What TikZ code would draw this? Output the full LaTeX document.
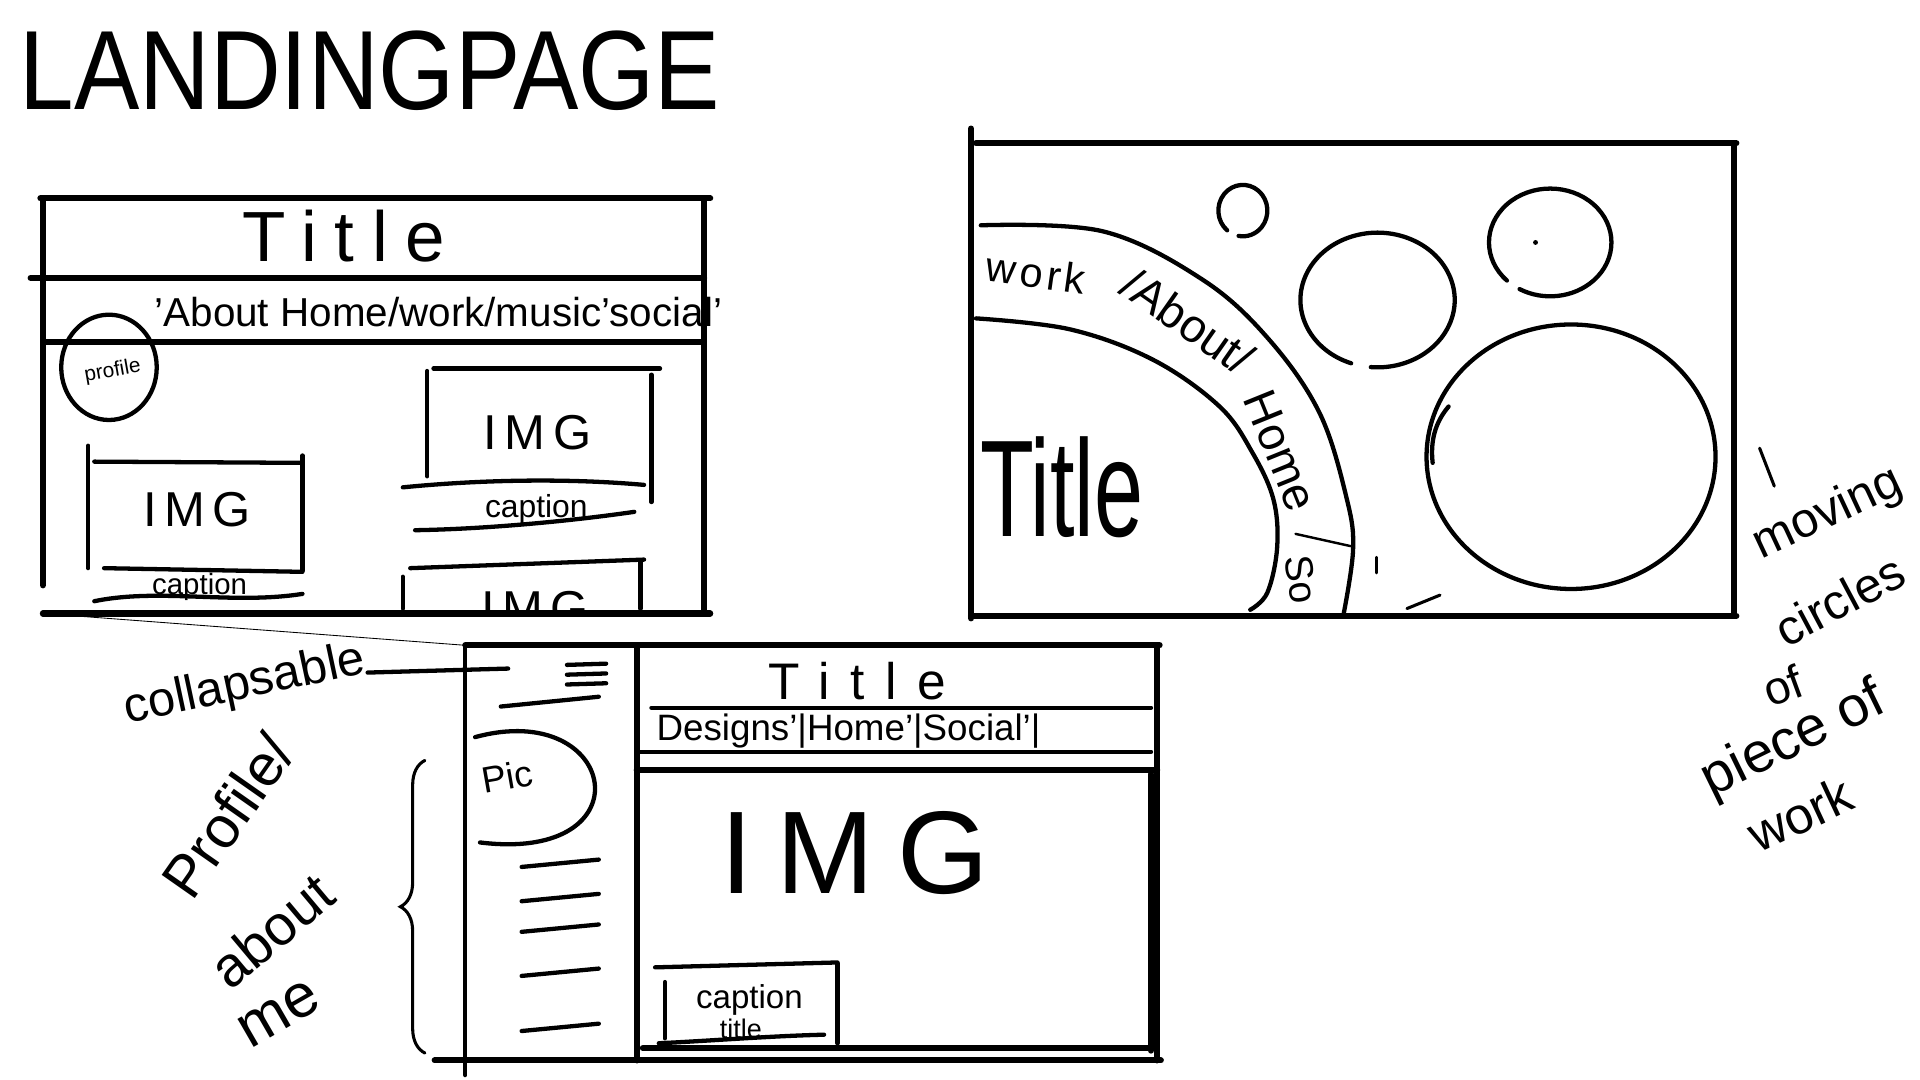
\documentclass[tikz,border=0pt]{standalone}
\usepackage{fontspec}
\setmainfont{Liberation Sans}
\usetikzlibrary{decorations.pathreplacing}

\newcommand{\spaced}[2]{{\addfontfeatures{LetterSpace=#1}#2}}

\tikzset{
    frame/.style={line width=5pt, line cap=round},
    ink/.style={line width=3.5pt, line cap=round},
    faint/.style={line width=0.7pt},
    hand/.style={inner sep=0pt, font=\fontsize{#1}{#1}\selectfont},
}

\begin{document}
\begin{tikzpicture}[x=1pt, y=-1pt]
    \useasboundingbox (0,0) rectangle (1568,882);

    % Heading
    \node[hand=80] (Heading) at (302,58) {\scalebox{1}[1.15]{LANDINGPAGE}};

    % First layout: outer frame and bars
    \coordinate (L1) at (35,501);
    \draw[frame] (33,162) -- (580,162);
    \draw[frame] (25,227) -- (575,227);
    \draw[frame] (38,279) -- (572,279);
    \draw[frame] (L1) -- (580,501);
    \draw[frame] (35,162) -- (35,478);
    \draw[frame] (575,164) -- (575,501);

    \node[hand=58] (TitleA) at (281,193) {\spaced{25}{Title}};
    \node[hand=33] (NavA) at (358,255) {'About Home/work/music'social'};

    % Profile bubble
    \draw[ink] (89,300) ellipse [x radius=39, y radius=43];
    \node[hand=17, rotate=10] (ProfileA) at (92,303) {profile};

    % Image blocks
    \draw[ink] (354,301) -- (539,301);
    \draw[ink] (349,303) -- (349,389);
    \draw[ink] (532,306) -- (532,410);
    \draw[ink] (329,398) .. controls (400,391) and (470,391) .. (526,396);
    \node[hand=40] (ImgA) at (439,353) {\spaced{15}{IMG}};
    \node[hand=26] (CaptionA) at (438,416) {caption};
    \draw[ink] (339,433) .. controls (400,432) and (470,425) .. (518,418);

    \draw[ink] (72,364) -- (72,464);
    \draw[ink] (77,377) -- (247,378);
    \draw[ink] (247,372) -- (247,466);
    \draw[ink] (85,464) -- (247,467);
    \node[hand=40] (ImgB) at (161,416) {\spaced{15}{IMG}};
    \node[hand=24] (CaptionB) at (163,479) {caption};
    \draw[ink] (77,491) .. controls (130,480) and (190,494) .. (247,485);

    \draw[ink] (335,464) -- (526,457);
    \draw[ink] (329,471) -- (329,497);
    \draw[ink] (523,459) -- (523,497);
    \begin{scope}
        \clip (320,462) rectangle (540,498);
        \node[hand=40] (ImgC) at (437,497) {\spaced{15}{IMG}};
    \end{scope}

    % Second layout: moving circles
    \draw[frame] (797,117) -- (1418,117);
    \draw[frame] (793,105) -- (793,505);
    \draw[frame] (1416,117) -- (1416,503);
    \draw[frame] (793,503) -- (1418,503);

    \draw[ink] plot[smooth, tension=0.6] coordinates {(801,184) (901,189) (983,229) (1037,278) (1078,338) (1100,408) (1105,449) (1097,503)};
    \draw[ink] plot[smooth, tension=0.6] coordinates {(797,260) (874,269) (942,294) (996,332) (1023,370) (1040,408) (1043,447) (1035,484) (1021,498)};
    \node[hand=34, rotate=-8] (WorkB) at (846,223) {\spaced{10}{work}};
    \node[hand=38, rotate=-35] (AboutB) at (970,262) {/About/};
    \node[hand=38, rotate=-68] (HomeB) at (1046,368) {Home};
    \draw[ink, line width=2pt] (1058,436) -- (1103,446);
    \node[hand=32, rotate=-82] (SoB) at (1063,473) {So};
    \node[hand=90] (TitleB) at (867,398) {\scalebox{0.8}[1.25]{Title}};

    \draw[ink] (1015,172) ++(130:20 and 21) arc[start angle=130, delta angle=330, x radius=20, y radius=21];
    \draw[ink] (1125,245) ++(110:63 and 55) arc[start angle=110, delta angle=345, x radius=63, y radius=55];
    \draw[ink] (1266,198) ++(135:50 and 44) arc[start angle=135, delta angle=345, x radius=50, y radius=44];
    \fill (1254,198) circle [radius=2pt];
    \draw[ink] (1283,373) ellipse [x radius=118, y radius=108];
    \draw[ink] (1183,332) .. controls (1172,345) and (1168,360) .. (1170,378);
    \draw[ink, line width=2.5pt] (1149,497) -- (1176,486);
    \draw[ink, line width=2pt] (1124,455) -- (1124,468);

    % Notes on the circles
    \draw[ink, line width=2.5pt] (1437,366) -- (1449,397);
    \node[hand=40, rotate=25] (Moving) at (1493,420) {moving};
    \node[hand=40, rotate=28] (Circles) at (1502,490) {circles};
    \node[hand=38, rotate=20] (Of) at (1456,560) {of};
    \node[hand=46, rotate=26] (Piece) at (1465,605) {piece of};
    \node[hand=42, rotate=25] (Work) at (1470,665) {work};

    % Third layout: collapsable sidebar
    \coordinate (C1) at (380,527);
    \draw[frame] (C1) -- (947,527);
    \draw[frame] (355,866) -- (948,866);
    \draw[ink] (380,527) -- (380,878);
    \draw[frame] (945,527) -- (945,866);
    \draw[frame] (520,527) -- (520,866);
    \draw[faint] (L1) -- (C1);

    \foreach \y in {543,551,559}
        \draw[ink] (463,\y) -- (495,\y-1);
    \draw[ink] (409,577) -- (489,569);

    \node[hand=40, rotate=12] (Collapsable) at (200,560) {collapsable};
    \coordinate (Burger) at (415,546);
    \draw[ink] (Collapsable.base east) -- (Burger);

    \draw[ink] (388,602) .. controls (505,570) and (530,705) .. (392,688);
    \node[hand=30, rotate=10] (Pic) at (414,634) {Pic};
    \foreach \y in {705,733,758,794,839}
        \draw[ink] (426,\y+3) -- (489,\y-3);

    \coordinate (BraceBottom) at (347,860);
    \coordinate (BraceTop) at (347,621);
    \draw[ink, line width=2.5pt, decorate, decoration={brace, amplitude=20pt}] (BraceBottom) -- (BraceTop);
    \node[hand=48, rotate=55] (ProfileC) at (186,666) {Profile/};
    \node[hand=46, rotate=40] (AboutC) at (222,760) {about};
    \node[hand=50, rotate=30] (MeC) at (228,828) {me};

    % Title, navigation and main image
    \node[hand=42] (TitleC) at (700,556) {\spaced{40}{Title}};
    \draw[ink] (532,578) -- (940,578);
    \draw[ink] (522,614) -- (940,614);
    \node[hand=30] (NavC) at (693,597) {Designs'|Home'|Social'|};

    \draw[frame] (520,629) -- (945,629);
    \draw[frame] (940,632) -- (940,858);
    \draw[frame] (525,856) -- (940,856);
    \node[hand=96] (ImgD) at (698,697) {\spaced{20}{IMG}};

    \draw[ink] (535,790) -- (684,786);
    \draw[ink] (543,802) -- (543,848);
    \draw[ink] (684,787) -- (684,852);
    \draw[ink] (538,852) .. controls (580,850) and (630,846) .. (673,845);
    \node[hand=27] (CaptionD) at (612,817) {caption};
    \node[hand=22] (TitleD) at (605,840) {title};

\end{tikzpicture}
\end{document}
